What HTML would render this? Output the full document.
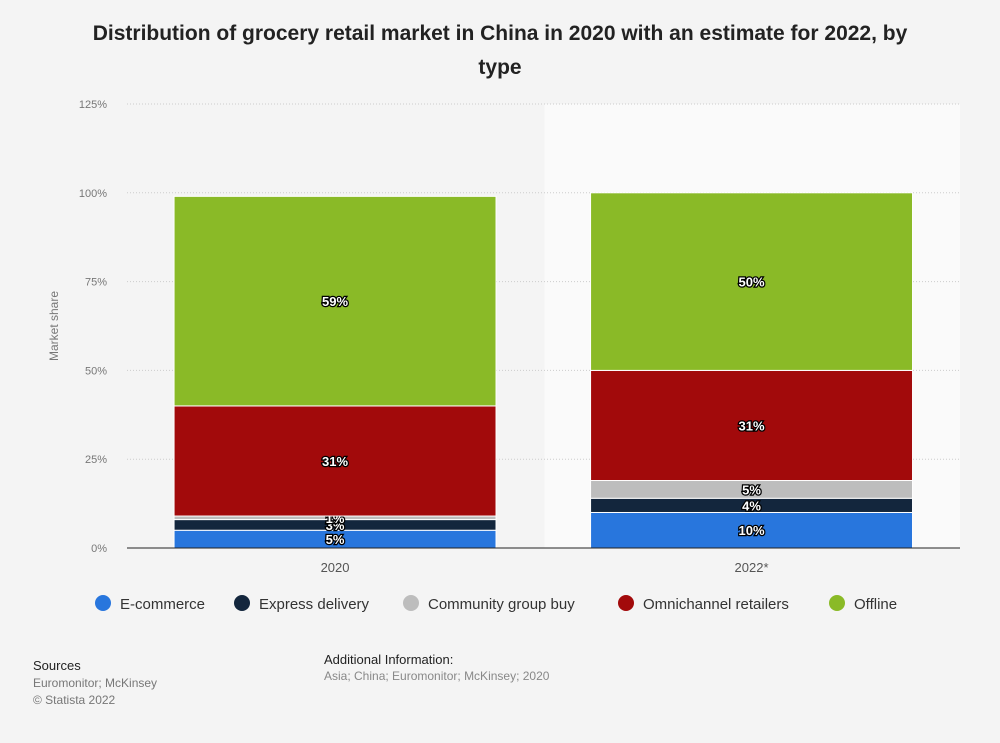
<!DOCTYPE html>
<html><head><meta charset="utf-8"><style>
body{margin:0;background:#f4f4f4;font-family:"Liberation Sans",Arial,sans-serif;}
#wrap{position:relative;width:1000px;height:743px;background:#f4f4f4;overflow:hidden}
.t{position:absolute;color:#333}
</style></head><body>
<div id="wrap">
<div class="t" style="left:75px;top:17px;width:850px;text-align:center;font-size:21px;font-weight:bold;line-height:34px;color:#222">Distribution of grocery retail market in China in 2020 with an estimate for 2022, by type</div>
<svg id="chart" width="1000" height="743" style="position:absolute;left:0;top:0"></svg>
<div class="t" style="left:33px;top:658px;font-size:13px;color:#222">Sources</div>
<div class="t" style="left:33px;top:675px;font-size:12px;color:#777;line-height:17px">Euromonitor; McKinsey<br>© Statista 2022</div>
<div class="t" style="left:324px;top:652px;font-size:13px;color:#222">Additional Information:</div>
<div class="t" style="left:324px;top:669px;font-size:12px;color:#888">Asia; China; Euromonitor; McKinsey; 2020</div>
</div>
<script>
const categories=["2020","2022*"];
const seriesNames=["E-commerce","Express delivery","Community group buy","Omnichannel retailers","Offline"];
const ecommerce=[5,10];
const express=[3,4];
const community=[1,5];
const omnichannel=[31,31];
const offline=[59,50];
const yTicks=[0,25,50,75,100,125];
const colors=["#2876dd","#13263d","#bdbdbd","#a20a0b","#8aba27"];
const series=[ecommerce,express,community,omnichannel,offline];
const NS="http://www.w3.org/2000/svg";
const svg=document.getElementById('chart');
const y0=548,pxPer=3.552,xL=127,xR=960;
const y=v=>y0-v*pxPer;
const bandW=(xR-xL)/categories.length;
const bx=i=>xL+bandW*i+bandW*0.113;
const bw=bandW*0.773;
function mk(t,a){const e=document.createElementNS(NS,t);for(const k in a)e.setAttribute(k,a[k]);svg.appendChild(e);return e;}
const hl=mk('rect',{x:xL+bandW+1,y:y(125),width:bandW-1,height:y0-y(125),fill:'#fafafa'});


yTicks.forEach(v=>{
 const g=mk('line',{x1:xL,x2:xR,y1:y(v),y2:y(v),stroke:'#ccc','stroke-dasharray':'1,2'});
 
 
 const t=mk('text',{x:107,y:y(v)+4,'text-anchor':'end','font-size':11,fill:'#777'});
 t.textContent=v+'%';
 
 
});
const yt=mk('text',{x:58,y:326,'text-anchor':'middle','font-size':12,fill:'#777',transform:'rotate(-90 58 326)'});
yt.textContent='Market share';


categories.forEach((c,i)=>{
 let acc=0;
 series.forEach((s,k)=>{
  const v=s[i];
  const r=mk('rect',{x:bx(i),y:y(acc+v),width:bw,height:v*pxPer,fill:colors[k],stroke:'#fff','stroke-width':1});
  
  
  const t=mk('text',{x:bx(i)+bw/2,y:y(acc+v/2)+5,'text-anchor':'middle','font-size':13,'font-weight':'bold',fill:'#fff',stroke:'#000','stroke-width':2.5,'paint-order':'stroke'});
  t.textContent=v+'%';
  
  
  acc+=v;
 });
 const xl=mk('text',{x:bx(i)+bw/2,y:572,'text-anchor':'middle','font-size':13,fill:'#555'});
 xl.textContent=c;
 
 
});
const ax=mk('line',{x1:xL,x2:xR,y1:y0,y2:y0,stroke:'#222','stroke-width':1});


const lx=[103,242,411,626,837];
seriesNames.forEach((n,k)=>{
 const c=mk('circle',{cx:lx[k],cy:603,r:8,fill:colors[k]});
 
 
 const t=mk('text',{x:lx[k]+17,y:609,'font-size':15,fill:'#333'});
 t.textContent=n;
 
 
});
</script>
</body></html>
